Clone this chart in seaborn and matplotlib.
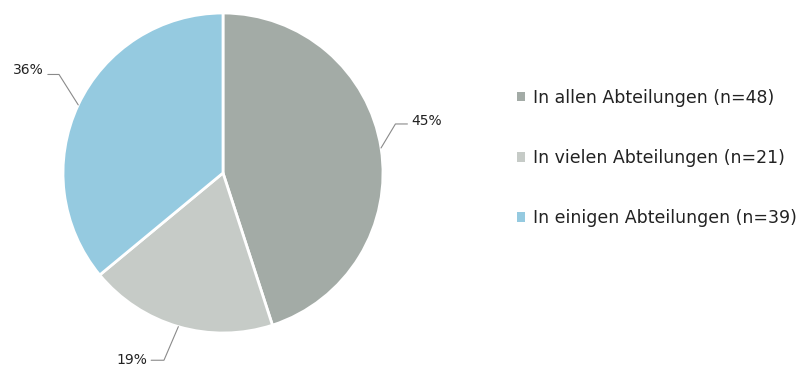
import numpy as np
import matplotlib
matplotlib.use("Agg")
import matplotlib.pyplot as plt
import seaborn as sns
from matplotlib.patches import Patch

categories = ["In allen Abteilungen", "In vielen Abteilungen", "In einigen Abteilungen"]
counts = [48, 21, 39]
shares = [45, 19, 36]
pct_labels = ["45%", "19%", "36%"]
colors = ["#a3aba6", "#c6cbc7", "#95cae0"]

sns.set_theme(style="white")
plt.rcParams['font.family'] = ['DejaVu Sans']

fig = plt.figure(figsize=(8.08, 3.69), dpi=100)
ax = fig.add_axes([63 / 808, (196 - 160) / 369, 320 / 808, 320 / 369])

wedges, _ = ax.pie(shares, colors=colors, startangle=90, counterclock=False,
                   wedgeprops=dict(edgecolor="white", linewidth=2))
ax.set_xlim(-1, 1)
ax.set_ylim(-1, 1)
ax.set_aspect("equal")
ax.axis("off")

# leader line layout per label: elbow dx, elbow dy, horizontal length, text dy
leader = [(0.09, 0.15, 0.075, 0.02), (-0.09, -0.21, 0.08, 0.0), (-0.12, 0.19, 0.07, 0.025)]
for w, lab, (dx, dy, hl, tdy) in zip(wedges, pct_labels, leader):
    ang = np.deg2rad((w.theta1 + w.theta2) / 2)
    x0, y0 = np.cos(ang), np.sin(ang)
    side = 1 if dx > 0 else -1
    ex, ey = x0 + dx, y0 + dy
    hx = ex + hl * side
    ax.plot([x0, ex, hx], [y0, ey, ey], color="#8a8a8a", lw=0.8, clip_on=False)
    ax.text(hx + 0.025 * side, ey + tdy, lab, ha="left" if side > 0 else "right",
            va="center", fontsize=10, color="#222222", clip_on=False)

handles = [Patch(facecolor=c, edgecolor="none") for c in colors]
labels = [f"{c} (n={n})" for c, n in zip(categories, counts)]
fig.legend(handles, labels, loc="upper left", bbox_to_anchor=(501 / 808, 1 - 73 / 369),
           frameon=False, fontsize=12.5, handlelength=0.5, handleheight=0.5,
           handletextpad=0.45, labelspacing=2.43, labelcolor="#222222")

fig.savefig("out.png", dpi=100)
